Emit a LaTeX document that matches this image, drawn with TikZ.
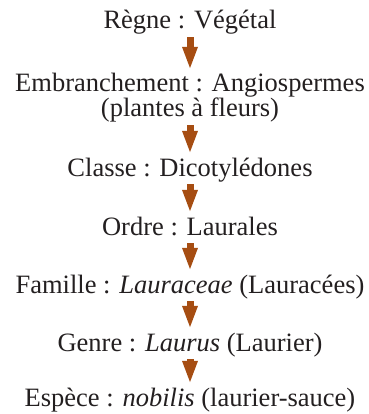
\documentclass[tikz,border=0pt]{standalone}
\usepackage{fontspec}
\setmainfont{Liberation Serif}
\usetikzlibrary{arrows.meta}
\definecolor{brunfleche}{RGB}{166,77,18}
\definecolor{encre}{RGB}{35,31,32}
\tikzset{
  rang/.style={inner sep=0pt, text height=15pt, text depth=6pt, anchor=base,
    font=\fontsize{26.5}{30}\selectfont, text=encre},
  fleche/.style={brunfleche, line width=7pt,
    -{Triangle[width=14pt,length=23pt]}, shorten <=2pt, shorten >=7pt}
}
\begin{document}
\begin{tikzpicture}[x=1pt, y=-1pt]
    \useasboundingbox (0,0) rectangle (368,414);

    \node[rang] (regne) at (190,29) {Règne : Végétal};
    \node[rang] (embr) at (190,92) {Embranchement : Angiospermes};
    \node[rang] (embrbis) at (190,117) {(plantes à fleurs)};
    \node[rang] (classe) at (190,176) {Classe : Dicotylédones};
    \node[rang] (ordre) at (190,235) {Ordre : Laurales};
    \node[rang] (famille) at (190,293) {Famille : \textit{Lauraceae} (Lauracées)};
    \node[rang] (genre) at (190,351) {Genre : \textit{Laurus} (Laurier)};
    \node[rang] (espece) at (190,406) {Espèce : \textit{nobilis} (laurier-sauce)};

    \draw[fleche] (regne) -- (embr);
    \draw[fleche] (embrbis) -- (classe);
    \draw[fleche] (classe) -- (ordre);
    \draw[fleche] (ordre) -- (famille);
    \draw[fleche] (famille) -- (genre);
    \draw[fleche] (genre) -- (espece);

\end{tikzpicture}
\end{document}
